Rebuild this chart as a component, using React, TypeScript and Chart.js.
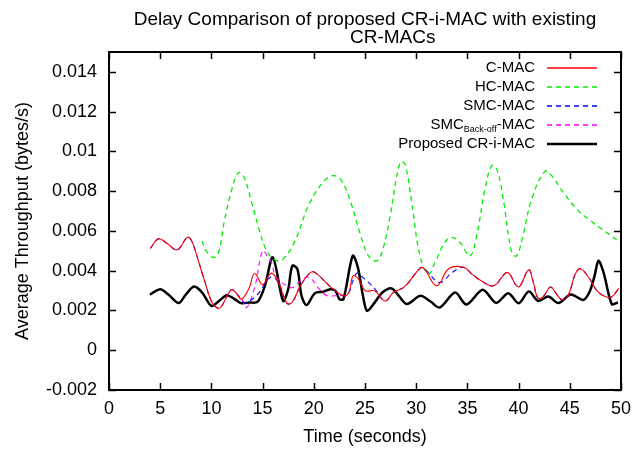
import React, { useEffect, useRef } from 'react';
import { Chart, registerables } from 'chart.js';

Chart.register(...registerables);

const TITLE_LINE_1 = 'Delay Comparison of proposed CR-i-MAC with existing';
const TITLE_LINE_2 = 'CR-MACs';
const X_LABEL = 'Time (seconds)';
const Y_LABEL = 'Average Throughput (bytes/s)';

const X_MIN = 0;
const X_MAX = 50;
const X_STEP = 5;
const Y_MIN = -0.002;
const Y_MAX = 0.015;
const Y_STEP = 0.002;

// C-MAC
const cmacT = [4.03, 4.84, 5.75, 6.66, 7.67, 8.07, 8.68, 9.38, 9.99, 10.5, 10.9, 11.91, 12.31, 12.92, 13.63, 14.23, 15.0, 15.85, 16.55, 17.36, 17.87, 18.78, 19.79, 20.39, 21.7, 22.91, 23.42, 23.83, 24.33, 25.04, 25.94, 26.96, 27.76, 28.87, 30.39, 30.79, 32.0, 33.2, 34.63, 35.44, 36.35, 37.56, 38.77, 39.17, 39.68, 40.08, 40.99, 41.4, 41.9, 42.4, 43.11, 43.6, 44.22, 44.83, 45.54, 46.04, 46.85, 47.66, 48.46, 49.07, 49.78];
const cmacV = [0.00512, 0.0056, 0.00534, 0.00505, 0.00568, 0.0055, 0.00458, 0.00341, 0.00248, 0.00215, 0.00215, 0.00304, 0.00294, 0.00257, 0.00307, 0.00386, 0.0033, 0.00388, 0.00341, 0.00237, 0.0024, 0.00332, 0.00394, 0.0038, 0.00316, 0.00274, 0.0029, 0.00374, 0.0036, 0.00299, 0.00299, 0.00248, 0.0029, 0.0032, 0.00413, 0.0041, 0.00324, 0.00411, 0.00417, 0.00383, 0.00349, 0.00324, 0.0039, 0.0038, 0.00332, 0.0032, 0.00405, 0.00349, 0.00262, 0.0027, 0.00318, 0.0029, 0.00255, 0.00274, 0.00383, 0.0041, 0.00366, 0.00299, 0.0027, 0.00268, 0.00311];

// HC-MAC
const hcmacT = [9.08, 9.48, 10.19, 10.7, 11.3, 12.01, 12.62, 13.12, 13.93, 14.74, 15.24, 15.85, 16.55, 17.16, 18.17, 19.48, 20.9, 21.91, 22.71, 23.72, 24.53, 25.34, 26.15, 26.75, 27.46, 28.42, 28.9, 29.56, 30.37, 31.18, 31.84, 32.8, 33.47, 34.28, 35.25, 35.9, 36.72, 37.37, 37.86, 38.5, 39.32, 39.81, 40.46, 41.28, 42.58, 43.23, 44.37, 45.67, 46.8, 48.11, 49.74, 50];
const hcmacV = [0.0055, 0.005, 0.00467, 0.00492, 0.0066, 0.00811, 0.00892, 0.00878, 0.00744, 0.00593, 0.00517, 0.00467, 0.0045, 0.00467, 0.0055, 0.00727, 0.00845, 0.00878, 0.00853, 0.00727, 0.00584, 0.00475, 0.0045, 0.00509, 0.00677, 0.00945, 0.00937, 0.00744, 0.00475, 0.00383, 0.00442, 0.00542, 0.00568, 0.00542, 0.00475, 0.00576, 0.00811, 0.00928, 0.00912, 0.0076, 0.00492, 0.00475, 0.00584, 0.0076, 0.009, 0.00878, 0.00794, 0.0071, 0.0066, 0.0061, 0.0055, 0.0054];

// SMC-MAC
const smcT = [4.03, 4.84, 5.75, 6.66, 7.67, 8.07, 8.68, 9.38, 9.99, 10.5, 10.9, 11.91, 12.31, 12.92, 13.3, 14.53, 15.75, 16.55, 17.36, 17.87, 18.78, 19.79, 20.39, 21.7, 22.91, 23.42, 23.83, 24.23, 24.7, 25.34, 25.94, 26.96, 27.76, 28.87, 30.39, 30.79, 32.3, 33.5, 34.63, 35.44, 36.35, 37.56, 38.77, 39.17, 39.68, 40.08, 40.99, 41.4, 41.9, 42.4, 43.11, 43.6, 44.22, 44.83, 45.54, 46.04, 46.85, 47.66, 48.46, 49.07, 49.78];
const smcV = [0.00512, 0.0056, 0.00534, 0.00505, 0.00568, 0.0055, 0.00458, 0.00341, 0.00248, 0.00215, 0.00215, 0.00304, 0.00294, 0.00257, 0.00237, 0.00282, 0.00366, 0.00341, 0.00237, 0.0024, 0.00332, 0.00394, 0.0038, 0.00316, 0.00274, 0.0029, 0.0035, 0.00388, 0.0037, 0.00341, 0.0031, 0.00248, 0.0029, 0.0032, 0.00413, 0.0041, 0.00341, 0.00391, 0.00417, 0.00383, 0.00349, 0.00324, 0.0039, 0.0038, 0.00332, 0.0032, 0.00405, 0.00349, 0.00262, 0.0027, 0.00318, 0.0029, 0.00255, 0.00274, 0.00383, 0.0041, 0.00366, 0.00299, 0.0027, 0.00268, 0.00311];

// SMC Back-off MAC
const smcBoT = [12.96, 13.45, 14.26, 15.0, 15.5, 15.85, 16.35, 17.36, 17.97, 18.78, 19.58, 20.39, 21.3, 22.1, 22.9];
const smcBoV = [0.00257, 0.00215, 0.00324, 0.005, 0.0047, 0.00442, 0.00366, 0.00324, 0.00316, 0.00354, 0.00366, 0.00316, 0.00274, 0.00274, 0.00274];

// Proposed CR-i-MAC
const crimacT = [4.0, 5.0, 5.8, 6.8, 7.5, 8.3, 9.1, 10.0, 10.8, 11.5, 12.2, 12.9, 13.7, 14.5, 15.2, 16.0, 17.0, 17.5, 17.9, 18.4, 18.8, 19.3, 20.1, 20.9, 21.6, 22.1, 22.5, 22.9, 23.8, 24.3, 24.8, 25.2, 25.9, 26.7, 27.6, 28.3, 29.1, 30.4, 31.4, 32.3, 33.8, 34.9, 36.5, 37.8, 39.0, 40.0, 41.0, 41.9, 42.9, 43.9, 45.1, 46.3, 46.9, 47.4, 47.8, 48.3, 49.1, 49.7];
const crimacV = [0.0028, 0.00307, 0.0028, 0.00237, 0.0028, 0.0032, 0.0029, 0.00223, 0.0025, 0.00277, 0.0026, 0.00237, 0.0024, 0.00243, 0.0032, 0.00467, 0.00248, 0.00307, 0.00425, 0.00408, 0.00274, 0.00227, 0.00287, 0.00294, 0.00307, 0.003, 0.00257, 0.00257, 0.00475, 0.00417, 0.00274, 0.00198, 0.00237, 0.0029, 0.00311, 0.00274, 0.00232, 0.00274, 0.00245, 0.00215, 0.0029, 0.0023, 0.00304, 0.00238, 0.00287, 0.00236, 0.00296, 0.00248, 0.0027, 0.00237, 0.0028, 0.00253, 0.0029, 0.0037, 0.0045, 0.0039, 0.00232, 0.0024];

const LEGEND_LABELS = [
  { main: 'C-MAC', sub: '', tail: '' },
  { main: 'HC-MAC', sub: '', tail: '' },
  { main: 'SMC-MAC', sub: '', tail: '' },
  { main: 'SMC', sub: 'Back-off', tail: '-MAC' },
  { main: 'Proposed CR-i-MAC', sub: '', tail: '' },
];

const SERIES_COLORS = ['#ff0000', '#00ee00', '#0000ff', '#ff00ff', '#000000'];

const FONT = '"Liberation Sans", Arial, Helvetica, sans-serif';

const toPoints = (t: number[], v: number[]) => t.map((x, i) => ({ x, y: v[i] }));

const decorPlugin = {
  id: 'decor',
  afterDraw(chart: any) {
    const { ctx, chartArea: a, scales } = chart;
    ctx.save();
    ctx.strokeStyle = '#000';
    ctx.setLineDash([]);
    ctx.lineWidth = 1.5;
    const TL = 7;
    const seg = (x1: number, y1: number, x2: number, y2: number) => {
      ctx.beginPath();
      ctx.moveTo(x1, y1);
      ctx.lineTo(x2, y2);
      ctx.stroke();
    };
    scales.x.ticks.forEach((t: any) => {
      const px = Math.round(scales.x.getPixelForValue(t.value)) + 0.5;
      seg(px, a.bottom, px, a.bottom - TL);
      seg(px, a.top, px, a.top + TL);
    });
    scales.y.ticks.forEach((t: any) => {
      const py = Math.round(scales.y.getPixelForValue(t.value)) + 0.5;
      seg(a.left, py, a.left + TL, py);
      seg(a.right, py, a.right - TL, py);
    });
    ctx.lineWidth = 2;
    ctx.strokeRect(a.left, a.top, a.right - a.left, a.bottom - a.top);

    // title
    ctx.fillStyle = '#000';
    ctx.font = `19px ${FONT}`;
    ctx.textBaseline = 'alphabetic';
    ctx.textAlign = 'center';
    ctx.fillText(TITLE_LINE_1, (a.left + a.right) / 2, 25);
    ctx.textAlign = 'left';
    ctx.fillText(TITLE_LINE_2, 350, 43);

    // axis labels
    ctx.font = `18px ${FONT}`;
    ctx.textAlign = 'center';
    ctx.fillText(X_LABEL, (a.left + a.right) / 2, 442);
    ctx.save();
    ctx.translate(28, (a.top + a.bottom) / 2);
    ctx.rotate(-Math.PI / 2);
    ctx.fillText(Y_LABEL, 0, 0);
    ctx.restore();

    // legend
    const textRight = 535;
    const lineX1 = 547;
    const lineX2 = 597;
    chart.data.datasets.forEach((ds: any, i: number) => {
      const y = 67.5 + i * 19;
      const lab = LEGEND_LABELS[i];
      ctx.fillStyle = '#000';
      ctx.textBaseline = 'middle';
      ctx.textAlign = 'left';
      ctx.font = `15px ${FONT}`;
      const wMain = ctx.measureText(lab.main).width;
      ctx.font = `9px ${FONT}`;
      const wSub = lab.sub ? ctx.measureText(lab.sub).width : 0;
      ctx.font = `15px ${FONT}`;
      const wTail = lab.tail ? ctx.measureText(lab.tail).width : 0;
      let x = textRight - (wMain + wSub + wTail);
      ctx.fillText(lab.main, x, y);
      x += wMain;
      if (lab.sub) {
        ctx.font = `9px ${FONT}`;
        ctx.fillText(lab.sub, x, y + 5);
        x += wSub;
        ctx.font = `15px ${FONT}`;
      }
      if (lab.tail) ctx.fillText(lab.tail, x, y);
      ctx.strokeStyle = SERIES_COLORS[i];
      ctx.lineWidth = Math.max(ds.borderWidth, 1.6);
      ctx.setLineDash(ds.borderDash || []);
      seg(lineX1, Math.round(y), lineX2, Math.round(y));
      ctx.setLineDash([]);
    });
    ctx.restore();
  },
};

export default function App() {
  const canvasRef = useRef<HTMLCanvasElement | null>(null);

  useEffect(() => {
    const canvas = canvasRef.current;
    if (!canvas) return;
    const common = { pointRadius: 0, pointHoverRadius: 0, fill: false, showLine: true };
    const chart = new Chart(canvas, {
      type: 'scatter',
      data: {
        datasets: [
          { ...common, label: 'C-MAC', data: toPoints(cmacT, cmacV), borderColor: SERIES_COLORS[0], borderWidth: 1.1, tension: 0.4 },
          { ...common, label: 'HC-MAC', data: toPoints(hcmacT, hcmacV), borderColor: SERIES_COLORS[1], borderWidth: 1.3, borderDash: [5, 4], tension: 0.4 },
          { ...common, label: 'SMC-MAC', data: toPoints(smcT, smcV), borderColor: SERIES_COLORS[2], borderWidth: 1.1, borderDash: [5, 4], tension: 0.4 },
          { ...common, label: 'SMC_Back-off-MAC', data: toPoints(smcBoT, smcBoV), borderColor: SERIES_COLORS[3], borderWidth: 1.1, borderDash: [5, 4], tension: 0.4 },
          { ...common, label: 'Proposed CR-i-MAC', data: toPoints(crimacT, crimacV), borderColor: SERIES_COLORS[4], borderWidth: 2.5, tension: 0.3 },
        ],
      } as any,
      options: {
        responsive: false,
        animation: false,
        devicePixelRatio: 1,
        layout: { padding: { left: 0, top: 52, right: 23, bottom: 0 } },
        plugins: { legend: { display: false }, title: { display: false }, tooltip: { enabled: false } },
        events: [],
        scales: {
          x: {
            type: 'linear',
            min: X_MIN,
            max: X_MAX,
            grid: { display: false, drawTicks: false },
            border: { display: false },
            ticks: { stepSize: X_STEP, color: '#000', font: { family: FONT, size: 18 }, padding: 8, maxRotation: 0, autoSkip: false },
            afterFit: (s: any) => { s.height = 59; },
          },
          y: {
            type: 'linear',
            min: Y_MIN,
            max: Y_MAX,
            bounds: 'data',
            grid: { display: false, drawTicks: false },
            border: { display: false },
            ticks: {
              stepSize: Y_STEP,
              includeBounds: false,
              color: '#000',
              font: { family: FONT, size: 18 },
              padding: 12,
              autoSkip: false,
              callback: (v: any) => String(+Number(v).toFixed(4)),
            },
            afterBuildTicks: (s: any) => { s.ticks = s.ticks.filter((t: any) => t.value <= 0.0141); },
            afterFit: (s: any) => { s.width = 109; },
          },
        },
      } as any,
      plugins: [decorPlugin],
    });
    return () => chart.destroy();
  }, []);

  return (
    <div style={{ position: 'absolute', left: 0, top: 0, width: 644, height: 449, background: '#fff' }}>
      <canvas ref={canvasRef} width={644} height={449} />
    </div>
  );
}
